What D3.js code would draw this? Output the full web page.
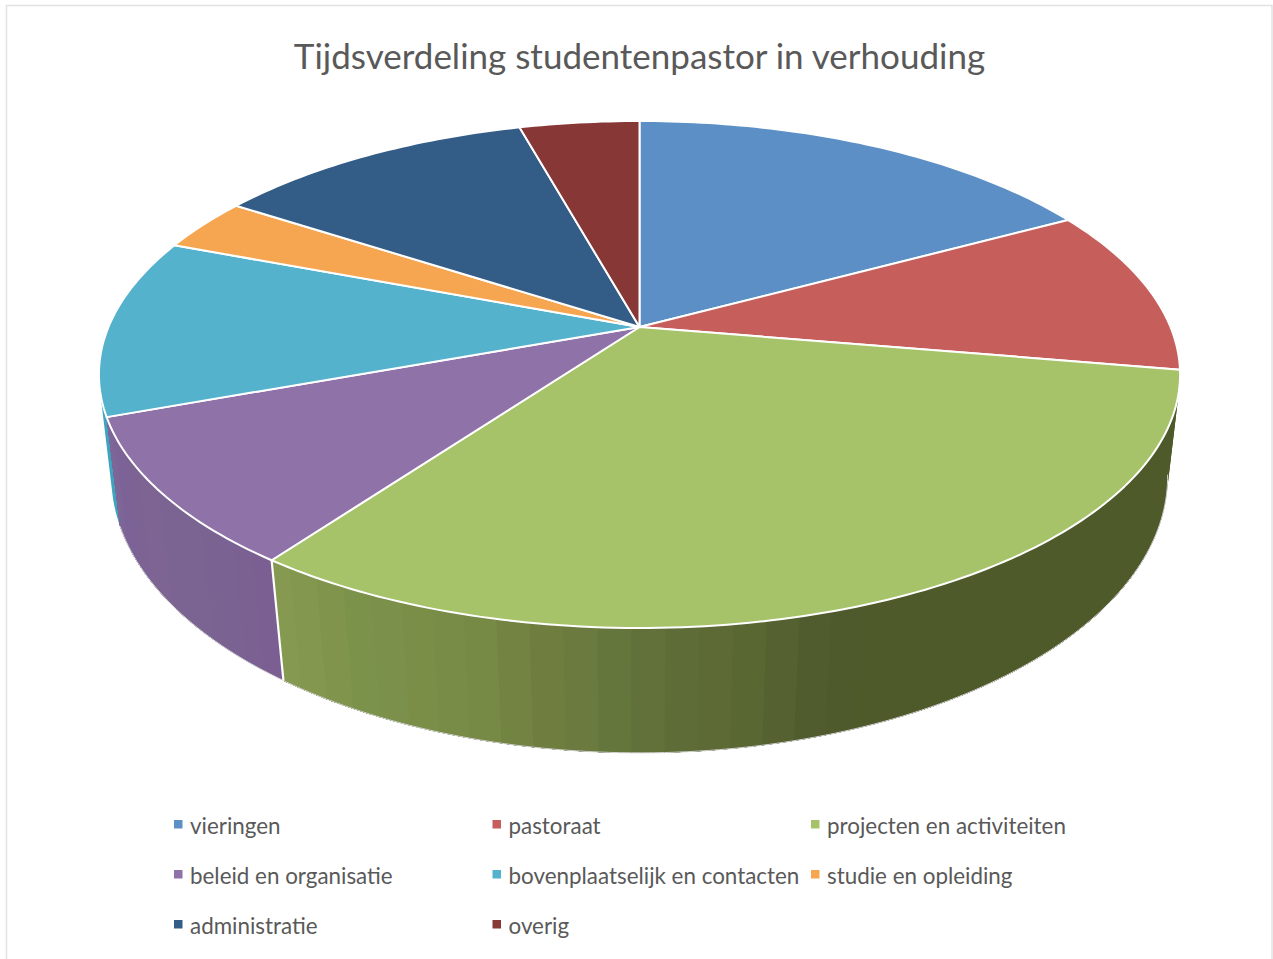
<!DOCTYPE html>
<html><head><meta charset="utf-8">
<script src="https://cdnjs.cloudflare.com/ajax/libs/d3/7.8.5/d3.min.js"></script>
<style>html,body{margin:0;padding:0;background:#fff;overflow:hidden}svg{display:block}text{font-family:Lato,"Open Sans",sans-serif;fill:#595959}</style>
</head><body><svg id="c" width="1273" height="959"></svg>
<script>
const titleText = "Tijdsverdeling studentenpastor in verhouding";
const categories = ["vieringen","pastoraat","projecten en activiteiten","beleid en organisatie","bovenplaatselijk en contacten","studie en opleiding","administratie","overig"];
const values = [17.1,10.6,32.3,9.4,11.4,3.4,11.5,4.3];
const topColors = ["#5b8fc5","#c65f5c","#a7c36a","#8f72a8","#54b2cd","#f6a550","#335d86","#873735"];
const greenStopAngles = [99,158,161,164,168,172,176,180,184,188,192,196,200,204,208,212,216];
const greenStopColors = ["#4e5a2a","#4e5a2a","#4f5a2e","#525e2e","#586633","#5d6a35","#5f6e38","#64753b","#6c7b40","#70803f","#768845","#788b47","#7c8f49","#7a924b","#80944c","#84984f","#879c52"];
const purpleStopAngles = [216,225,235,243,250];
const purpleStopColors = ["#7b5f93","#7a6491","#7d6493","#7c6296","#80699b"];
const tealSideColor = "#3fa3bd";

const svg = d3.select("#c");
const W=1273,H=959;
svg.append("path").attr("d",`M6.5 ${H} V5.5 H1272 V${H}`).attr("fill","none").attr("stroke","#e2e2e2").attr("stroke-width",1.5);

// perspective projection of the unit disc: top face and bottom face
const cx=639.5;
const topFace={R:531,k:-0.1874,y0:327,a:244.6};
const botFace={R:520,k:-0.175,y0:428,a:268};
function project(f,ang,r=1){ // ang in radians clockwise from 12 o'clock
  const u=r*Math.sin(ang), v=-r*Math.cos(ang), w=1+f.k*v;
  return [cx+f.R*u/w, f.y0+f.a*v/w];
}
const arcs=d3.pie().sort(null).value(d=>d)(values);
const step=Math.PI/180;
const greenScale=d3.scaleLinear().domain(greenStopAngles).range(greenStopColors);
const purpleScale=d3.scaleLinear().domain(purpleStopAngles).range(purpleStopColors);
const line=d3.line();

// side walls: one path of consistently wound quads, so the fold at the silhouette cannot cancel out
const sideG=svg.append("g");
function wall(a0,a1,fill){
  const n=Math.max(1,Math.ceil((a1-a0)/step));
  let d="";
  for(let j=0;j<n;j++){
    const s=a0+(a1-a0)*j/n, e=a0+(a1-a0)*(j+1)/n;
    let q=[project(topFace,s),project(topFace,e),project(botFace,e),project(botFace,s)];
    if(d3.polygonArea(q)<0) q=q.reverse();
    d+=line(q)+"Z";
  }
  sideG.append("path").attr("d",d).attr("fill",fill);
}
function bands(a0,a1,colorFor,bandDeg){
  for(let t=a0;t<a1-1e-6;t+=bandDeg*step) wall(t,a1,colorFor(t/step));
}
wall(arcs[4].startAngle,arcs[4].startAngle+6*step,tealSideColor);
bands(arcs[3].startAngle,arcs[3].endAngle,a=>purpleScale(a),2.5);
wall(arcs[1].startAngle+20*step,arcs[1].endAngle+1*step,"#4e5a2a");
bands(arcs[2].startAngle,arcs[2].endAngle,a=>greenScale(a),3);

// thin outline under the lower rim
const rim=d3.range(arcs[2].startAngle,arcs[3].endAngle,step).concat([arcs[3].endAngle]).map(t=>project(botFace,t));
svg.append("path").attr("d",line(rim)).attr("fill","none").attr("stroke","#d4d4d4").attr("stroke-width",1);
// white seam between the purple and green walls
svg.append("path").attr("d",line([project(topFace,arcs[3].startAngle),project(botFace,arcs[3].startAngle)]))
  .attr("stroke","#fff").attr("stroke-width",2.2).attr("fill","none");

// top face
arcs.forEach((a,i)=>{
  const n=Math.ceil((a.endAngle-a.startAngle)/step);
  const pts=[project(topFace,0,0)];
  for(let j=0;j<=n;j++) pts.push(project(topFace,a.startAngle+(a.endAngle-a.startAngle)*j/n));
  svg.append("path").attr("d",line(pts)+"Z").attr("fill",topColors[i])
    .attr("stroke","#fff").attr("stroke-width",2).attr("stroke-linejoin","round");
});

// title
svg.append("text").attr("x",639.5).attr("y",69).attr("text-anchor","middle").attr("font-size",35).text(titleText);

// legend
const colX=d3.scalePoint().domain([0,1,2]).range([174,811]);
const rowY=d3.scalePoint().domain([0,1,2]).range([834,934]);
categories.forEach((c,i)=>{
  const x=colX(i%3), y=rowY(Math.floor(i/3));
  svg.append("rect").attr("x",x).attr("y",y-14).attr("width",8.5).attr("height",8.5).attr("fill",topColors[i]);
  svg.append("text").attr("x",x+16).attr("y",y).attr("font-size",22.4).text(c);
});
</script></body></html>
